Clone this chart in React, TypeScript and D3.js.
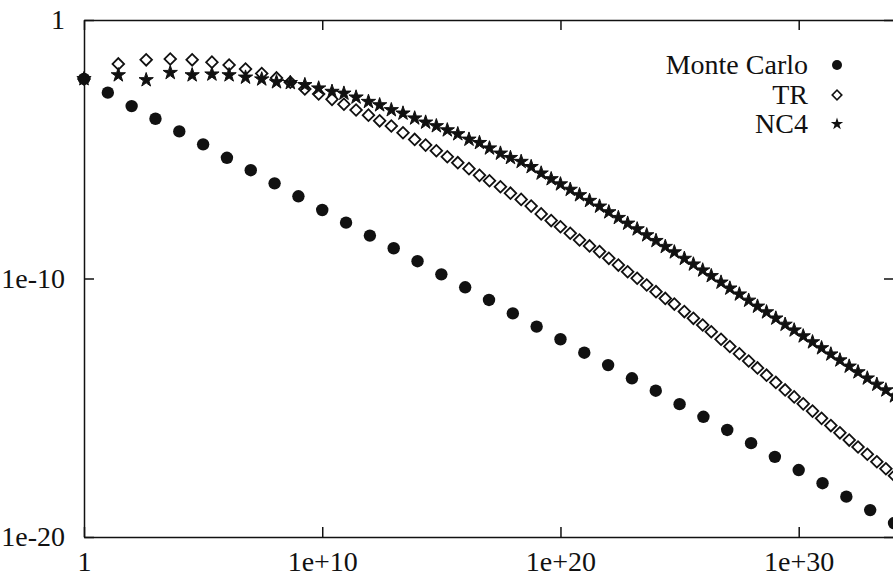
import * as d3 from "d3";
import { useEffect, useRef } from "react";

// Monte Carlo: sample counts (log10) and error (log10)
const mcLogN = [
  0, 1, 2, 3, 4, 5, 6, 7, 8, 9, 10, 11, 12, 13, 14, 15, 16, 17, 18, 19, 20,
  21, 22, 23, 24, 25, 26, 27, 28, 29, 30, 31, 32, 33, 34,
];
const mcLogErr = [
  -2.28, -2.81, -3.33, -3.82, -4.31, -4.81, -5.33, -5.81, -6.32, -6.82,
  -7.35, -7.84, -8.34, -8.83, -9.33, -9.84, -10.34, -10.83, -11.35, -11.86,
  -12.35, -12.87, -13.35, -13.86, -14.34, -14.86, -15.35, -15.86, -16.37,
  -16.9, -17.41, -17.92, -18.44, -18.96, -19.46,
];

// TR and NC4 share the same evaluation counts (log10)
const quadLogN = [
  0, 1.44, 2.61, 3.62, 4.54, 5.37, 6.09, 6.78, 7.46, 8.08,
  8.66, 9.27, 9.85, 10.41, 10.91, 11.42, 11.94, 12.41, 12.9, 13.39,
  13.88, 14.34, 14.79, 15.25, 15.69, 16.16, 16.6, 17.02, 17.48, 17.9,
  18.35, 18.77, 19.19, 19.61, 20.0, 20.41, 20.8, 21.22, 21.64, 22.03,
  22.43, 22.82, 23.22, 23.62, 24.01, 24.4, 24.78, 25.2, 25.58, 25.97,
  26.33, 26.74, 27.11, 27.51, 27.9, 28.27, 28.65, 29.04, 29.43, 29.81,
  30.19, 30.58, 30.96, 31.35, 31.73, 32.12, 32.49, 32.88, 33.28, 33.66,
  34.02,
];
const trLogErr = [
  -2.28, -1.7, -1.54, -1.51, -1.54, -1.63, -1.74, -1.9, -2.07, -2.24,
  -2.41, -2.67, -2.86, -3.07, -3.26, -3.48, -3.68, -3.9, -4.1, -4.36,
  -4.62, -4.84, -5.06, -5.29, -5.52, -5.75, -6.01, -6.22, -6.45, -6.7,
  -6.94, -7.2, -7.5, -7.76, -8.0, -8.25, -8.51, -8.74, -8.96, -9.22,
  -9.48, -9.74, -9.99, -10.25, -10.51, -10.77, -10.99, -11.28, -11.54, -11.8,
  -12.06, -12.35, -12.63, -12.91, -13.19, -13.46, -13.74, -14.02, -14.31, -14.58,
  -14.85, -15.13, -15.41, -15.69, -15.97, -16.25, -16.52, -16.8, -17.09, -17.36,
  -17.63,
];
const nc4LogErr = [
  -2.28, -2.13, -2.32, -2.04, -2.13, -2.1, -2.13, -2.22, -2.29, -2.4,
  -2.43, -2.51, -2.64, -2.77, -2.84, -2.99, -3.16, -3.29, -3.48, -3.61,
  -3.8, -3.96, -4.1, -4.26, -4.41, -4.62, -4.75, -4.96, -5.16, -5.33,
  -5.48, -5.68, -5.93, -6.15, -6.35, -6.56, -6.77, -6.99, -7.21, -7.43,
  -7.65, -7.87, -8.09, -8.32, -8.54, -8.77, -8.98, -9.23, -9.45, -9.68,
  -9.9, -10.15, -10.38, -10.61, -10.85, -11.08, -11.3, -11.54, -11.78, -12.0,
  -12.23, -12.46, -12.69, -12.93, -13.16, -13.4, -13.62, -13.86, -14.1, -14.32,
  -14.55,
];

const xTicks = [1, 1e10, 1e20, 1e30];
const yTicks = [1e-20, 1e-10, 1];
const legendLabels = ["Monte Carlo", "TR", "NC4"];

const width = 893;
const height = 578;
const marginLeft = 84;
const marginTop = 20;
const plotRight = 894; // right border sits just outside the picture
const plotBottom = 537;
const ink = "#111";
const font = "'Liberation Serif', 'Times New Roman', serif";
const fontSize = 28;

const fmt = (v: number) => {
  const e = Math.round(Math.log10(v));
  if (e === 0) return "1";
  return `1e${e > 0 ? "+" : "-"}${Math.abs(e)}`;
};

const circlePath = (r: number) => d3.symbol().type(d3.symbolCircle).size(Math.PI * r * r)()!;
const squarePath = (half: number) => d3.symbol().type(d3.symbolSquare).size(2 * half * half)()!;
const starPath = (r: number) => d3.symbol().type(d3.symbolStar).size((r * r) / 0.8908130915)()!;

export default function App() {
  const xAxisRef = useRef<SVGGElement>(null);
  const topAxisRef = useRef<SVGGElement>(null);
  const yAxisRef = useRef<SVGGElement>(null);
  const rightAxisRef = useRef<SVGGElement>(null);

  const x = d3.scaleLog().domain([1, 1e34]).range([marginLeft, plotRight]);
  const y = d3.scaleLog().domain([1e-20, 1]).range([plotBottom, marginTop]);

  const mc = mcLogN.map((e, i) => ({ n: 10 ** e, v: 10 ** mcLogErr[i] }));
  const tr = quadLogN.map((e, i) => ({ n: 10 ** e, v: 10 ** trLogErr[i] }));
  const nc4 = quadLogN.map((e, i) => ({ n: 10 ** e, v: 10 ** nc4LogErr[i] }));

  useEffect(() => {
    const style = (g: d3.Selection<SVGGElement, unknown, null, undefined>) => {
      g.select(".domain").attr("stroke", ink).attr("stroke-width", 1.5);
      g.selectAll(".tick line").attr("stroke", ink).attr("stroke-width", 1.5);
      g.selectAll("text")
        .attr("font-family", font)
        .attr("font-size", fontSize)
        .attr("fill", ink);
    };

    d3.select(xAxisRef.current!)
      .call(d3.axisBottom(x).tickValues(xTicks).tickFormat((d) => fmt(+d)).tickSize(-10).tickSizeOuter(0).tickPadding(14))
      .call(style);
    d3.select(topAxisRef.current!)
      .call(d3.axisTop(x).tickValues(xTicks).tickFormat(() => "").tickSize(-10).tickSizeOuter(0))
      .call(style);
    d3.select(yAxisRef.current!)
      .call(d3.axisLeft(y).tickValues(yTicks).tickFormat((d) => fmt(+d)).tickSize(-10).tickSizeOuter(0).tickPadding(19))
      .call(style);
    d3.select(rightAxisRef.current!)
      .call(d3.axisRight(y).tickValues(yTicks).tickFormat(() => "").tickSize(-10).tickSizeOuter(0))
      .call(style);
  }, []);

  const legendX = 808;
  const legendSymX = 837;
  const legendY = [65, 95, 124];

  return (
    <svg
      width={width}
      height={height}
      style={{ position: "absolute", left: 0, top: 0, background: "#fff" }}
    >
      <rect width={width} height={height} fill="#fff" />

      <g fill={ink}>
        {mc.map((d, i) => (
          <path key={i} d={circlePath(6.2)} transform={`translate(${x(d.n)},${y(d.v)})`} />
        ))}
      </g>
      <g fill="none" stroke={ink} strokeWidth={1.8}>
        {tr.map((d, i) => (
          <path key={i} d={squarePath(5.8)} transform={`translate(${x(d.n)},${y(d.v)}) rotate(45)`} />
        ))}
      </g>
      <g fill={ink} stroke={ink} strokeWidth={1} strokeLinejoin="round">
        {nc4.map((d, i) => (
          <path key={i} d={starPath(7.5)} transform={`translate(${x(d.n)},${y(d.v)})`} />
        ))}
      </g>

      <g ref={xAxisRef} transform={`translate(0,${plotBottom})`} />
      <g ref={topAxisRef} transform={`translate(0,${marginTop})`} />
      <g ref={yAxisRef} transform={`translate(${marginLeft},0)`} />
      <g ref={rightAxisRef} transform={`translate(${plotRight},0)`} />

      <g fontFamily={font} fontSize={fontSize} fill={ink} textAnchor="end">
        {legendLabels.map((label, i) => (
          <text key={label} x={legendX} y={legendY[i] + 9}>
            {label}
          </text>
        ))}
      </g>
      <path d={circlePath(5)} fill={ink} transform={`translate(${legendSymX},${legendY[0]})`} />
      <path
        d={squarePath(4.8)}
        fill="none"
        stroke={ink}
        strokeWidth={1.6}
        transform={`translate(${legendSymX},${legendY[1]}) rotate(45)`}
      />
      <path d={starPath(6.5)} fill={ink} transform={`translate(${legendSymX},${legendY[2]})`} />
    </svg>
  );
}
